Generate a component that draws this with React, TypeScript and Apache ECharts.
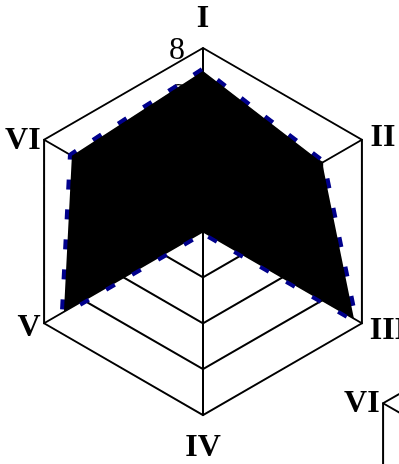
import React, { useEffect, useRef } from 'react';
import * as echarts from 'echarts';

const indicatorNames = ['I', 'II', 'III', 'IV', 'V', 'VI'];
const indicatorMax = 8;
const seriesValues = [7, 6, 7.6, 0, 7, 6.6];

const FONT = '"Liberation Serif", "Times New Roman", serif';

// ECharts lays indicators counter-clockwise; reverse (keeping the first) to go clockwise.
const order = [0, 5, 4, 3, 2, 1];
// gap between each axis end and its name (I, II, III, IV, V, VI)
const nameGaps = [16, 10, 9, 14, 4, 4];

export default function App() {
  const ref = useRef<HTMLDivElement>(null);
  useEffect(() => {
    const chart = echarts.init(ref.current!, null, { renderer: 'svg' });
    const makeIndicators = (labelFirst: boolean) =>
      order.map((idx, i) => ({
        name: indicatorNames[idx],
        min: 0,
        max: indicatorMax,
        nameGap: nameGaps[idx],
        axisLabel: { show: labelFirst && i === 0 },
      }));
    const radarBase = {
      radius: 183.5,
      splitNumber: 4,
      shape: 'polygon',
      startAngle: 90,
      axisName: { color: '#000', fontSize: 32, fontWeight: 'bold', fontFamily: FONT },
      axisLine: { lineStyle: { color: '#000', width: 2 } },
      splitLine: { lineStyle: { color: '#000', width: 2 } },
      splitArea: { show: false },
      axisTick: { show: false },
      axisLabel: { color: '#000', fontSize: 32, fontFamily: FONT, margin: 18 },
    };
    chart.setOption({
      animation: false,
      radar: [
        { ...radarBase, center: [203, 231.5], indicator: makeIndicators(true) },
        { ...radarBase, center: [542, 495], indicator: makeIndicators(false) },
      ],
      series: [
        {
          type: 'radar',
          radarIndex: 0,
          symbol: 'none',
          data: [{ value: order.map((idx) => seriesValues[idx]) }],
          lineStyle: { color: '#00008b', width: 8, type: [10, 20] },
          areaStyle: { color: '#000', opacity: 1 },
        },
      ],
    });
    return () => chart.dispose();
  }, []);
  return (
    <div
      ref={ref}
      style={{ position: 'fixed', left: 0, top: 0, width: 399, height: 464 }}
    />
  );
}
